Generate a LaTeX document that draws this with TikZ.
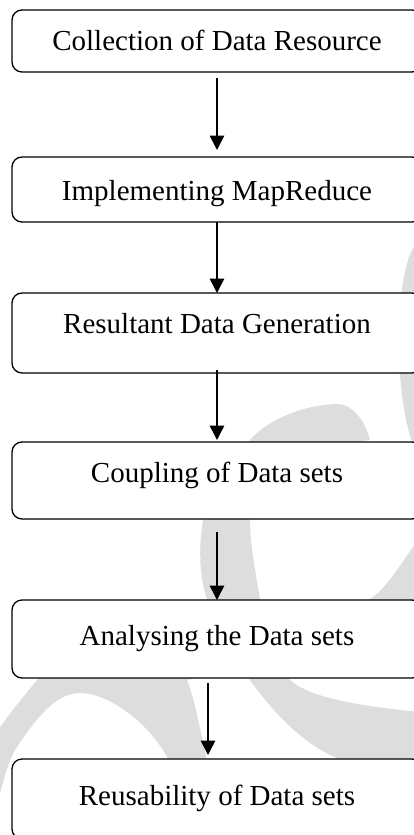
\documentclass[tikz,border=0pt]{standalone}
\usepackage{fontspec}
\setmainfont{Liberation Serif}
\usetikzlibrary{positioning,arrows.meta}
\definecolor{wmgray}{RGB}{221,221,221}

\begin{document}
\begin{tikzpicture}[x=1pt,y=-1pt,
  stage/.style={draw,line width=1.3pt,fill=white,rounded corners=10pt,
    minimum width=\boxw,inner sep=0pt,outer sep=0pt,text height=21pt,
    font=\fontsize{29}{34}\selectfont},
  flow/.style={-{Triangle[width=14.5pt,length=14.5pt]},line width=1.6pt}]

  \def\boxw{410pt}

  \useasboundingbox (0,0) rectangle (413,835);

  \fill[wmgray] (420,240) -- (413,248) .. controls (395,280) and (393,390) .. (413,445) -- (420,450) -- cycle;

  \fill[wmgray] (337,404) .. controls (300,405) and (265,422) .. (250,440)
    .. controls (225,465) and (208,495) .. (203,520)
    .. controls (198,550) and (200,580) .. (207,599)
    .. controls (215,640) and (232,665) .. (250,680)
    .. controls (275,715) and (305,745) .. (337,758)
    .. controls (370,772) and (400,782) .. (420,790)
    -- (420,712)
    .. controls (360,706) and (310,698) .. (290,680)
    .. controls (275,660) and (262,630) .. (260,599)
    .. controls (256,575) and (250,545) .. (250,520)
    .. controls (255,470) and (330,445) .. (370,440)
    .. controls (365,420) and (352,404) .. (337,404) -- cycle;

  \fill[wmgray] (420,535) -- (413,547)
    .. controls (400,565) and (385,590) .. (370,599)
    .. controls (250,640) and (90,630) .. (37,680)
    .. controls (25,695) and (10,712) .. (-5,735)
    -- (-5,800) -- (0,793)
    .. controls (5,775) and (10,757) .. (17,747)
    .. controls (35,720) and (55,693) .. (80,693)
    .. controls (110,693) and (150,725) .. (167,757)
    .. controls (172,770) and (175,785) .. (178,800)
    -- (215,800)
    .. controls (212,780) and (210,770) .. (207,760)
    .. controls (200,730) and (195,700) .. (187,680)
    .. controls (250,665) and (380,650) .. (420,645) -- cycle;

  \node[stage,minimum height=62pt,text depth=3pt] (collect) at (217,41) {Collection of Data Resource};
  \node[stage,minimum height=65pt,text depth=0pt,below=85pt of collect] (mapred) {Implementing MapReduce};
  \node[stage,minimum height=80pt,text depth=21pt,below=71pt of mapred] (result) {Resultant Data Generation};
  \node[stage,minimum height=77pt,text depth=18pt,below=69pt of result] (couple) {Coupling of Data sets};
  \node[stage,minimum height=78pt,text depth=9pt,below=81pt of couple] (analyse) {Analysing the Data sets};
  \node[stage,minimum height=80pt,text depth=9pt,below=81pt of analyse] (reuse) {Reusability of Data sets};

  \draw[flow,shorten <=6pt,shorten >=7pt] (collect) -- (mapred);
  \draw[flow] (mapred) -- (result);
  \draw[flow,shorten <=-3pt,shorten >=2pt] (result) -- (couple);
  \draw[flow,shorten <=13pt] (couple) -- (analyse);
  \draw[flow,shorten <=5pt,shorten >=4pt] ([xshift=-9pt]analyse.south) -- ([xshift=-9pt]reuse.north);

\end{tikzpicture}
\end{document}
